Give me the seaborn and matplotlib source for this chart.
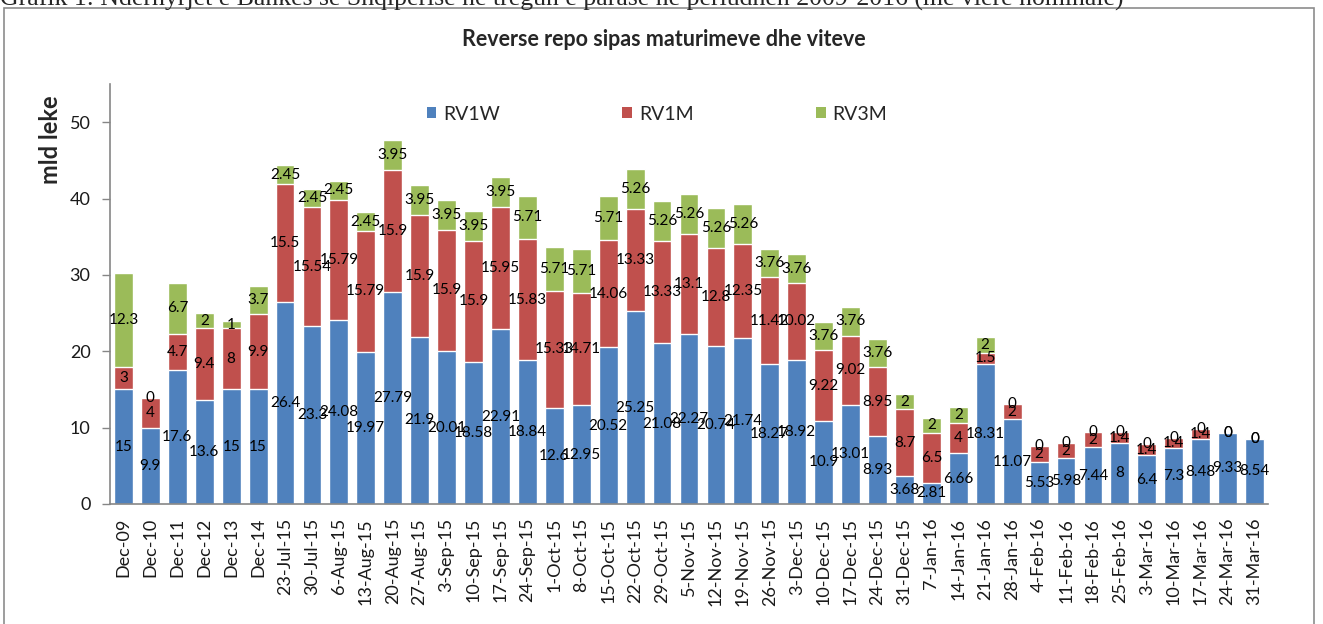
import numpy as np
import seaborn as sns
import matplotlib.pyplot as plt
from matplotlib.patches import Patch, Rectangle
from matplotlib.ticker import FixedLocator

# data
dates = ["Dec-09", "Dec-10", "Dec-11", "Dec-12", "Dec-13", "Dec-14",
         "23-Jul-15", "30-Jul-15", "6-Aug-15", "13-Aug-15", "20-Aug-15", "27-Aug-15",
         "3-Sep-15", "10-Sep-15", "17-Sep-15", "24-Sep-15", "1-Oct-15", "8-Oct-15",
         "15-Oct-15", "22-Oct-15", "29-Oct-15", "5-Nov-15", "12-Nov-15", "19-Nov-15",
         "26-Nov-15", "3-Dec-15", "10-Dec-15", "17-Dec-15", "24-Dec-15", "31-Dec-15",
         "7-Jan-16", "14-Jan-16", "21-Jan-16", "28-Jan-16", "4-Feb-16", "11-Feb-16",
         "18-Feb-16", "25-Feb-16", "3-Mar-16", "10-Mar-16", "17-Mar-16", "24-Mar-16",
         "31-Mar-16"]

rv1w = [15, 9.9, 17.6, 13.6, 15, 15,
        26.4, 23.3, 24.08, 19.97, 27.79, 21.9,
        20.01, 18.58, 22.91, 18.84, 12.6, 12.95,
        20.52, 25.25, 21.08, 22.27, 20.74, 21.74,
        18.27, 18.92, 10.9, 13.01, 8.93, 3.68,
        2.81, 6.66, 18.31, 11.07, 5.53, 5.98,
        7.44, 8, 6.4, 7.3, 8.48, 9.33,
        8.54]

rv1m = [3, 4, 4.7, 9.4, 8, 9.9,
        15.5, 15.54, 15.79, 15.79, 15.9, 15.9,
        15.9, 15.9, 15.95, 15.83, 15.33, 14.71,
        14.06, 13.33, 13.33, 13.1, 12.8, 12.35,
        11.42, 10.02, 9.22, 9.02, 8.95, 8.7,
        6.5, 4, 1.5, 2, 2, 2,
        2, 1.4, 1.4, 1.4, 1.4, 0,
        0]

rv3m = [12.3, 0, 6.7, 2, 1, 3.7,
        2.45, 2.45, 2.45, 2.45, 3.95, 3.95,
        3.95, 3.95, 3.95, 5.71, 5.71, 5.71,
        5.71, 5.26, 5.26, 5.26, 5.26, 5.26,
        3.76, 3.76, 3.76, 3.76, 3.76, 2,
        2, 2, 2, 0, 0, 0,
        0, 0, 0, 0, 0, 0,
        0]

series = ["RV1W", "RV1M", "RV3M"]
colors = ["#4F81BD", "#C0504D", "#9BBB59"]

sns.set_style("white")
plt.rcParams['font.family'] = ['Lato', 'DejaVu Sans']

fig = plt.figure(figsize=(13.23, 6.24), dpi=100)
ax = fig.add_axes([110 / 1323, 1 - 504 / 624, 1158 / 1323, 420 / 624])

w = np.array(rv1w)
m = np.array(rv1m)
q = np.array(rv3m)

# stacked bars by overdrawing cumulative totals
sns.barplot(x=dates, y=w + m + q, color=colors[2], width=0.7, saturation=1, ax=ax)
sns.barplot(x=dates, y=w + m, color=colors[1], width=0.7, saturation=1, ax=ax)
sns.barplot(x=dates, y=w, color=colors[0], width=0.7, saturation=1, ax=ax)

# data labels at segment centres
for i in range(len(dates)):
    base = 0
    for vals in (w, m, q):
        v = vals[i]
        ax.text(i, base + v / 2, f"{v:g}", ha="center", va="center",
                fontsize=11, color="black", zorder=10)
        base += v

ax.set_xlim(-0.5, len(dates) - 0.5)
ax.set_ylim(0, 55)
ax.set_yticks(range(0, 51, 10))
ax.set_xlabel("")
ax.set_ylabel("")

ax.xaxis.set_minor_locator(FixedLocator(np.arange(-0.5, len(dates), 1)))
ax.tick_params(axis="x", which="major", length=0, labelsize=13, rotation=90, pad=10)
ax.tick_params(axis="x", which="minor", length=5, color="#868686", width=1)
ax.tick_params(axis="y", length=6, color="#868686", width=1, labelsize=13, left=True, pad=8)
for lab in ax.get_xticklabels() + ax.get_yticklabels():
    lab.set_color("#1a1a1a")

sns.despine(ax=ax, top=True, right=True)
for s in ("left", "bottom"):
    ax.spines[s].set_color("#868686")
    ax.spines[s].set_linewidth(1.2)

handles = [Patch(facecolor=c, edgecolor="none") for c in colors]
fig.legend(handles, series, loc="center", ncol=3,
           bbox_to_anchor=(657 / 1323, 1 - 114 / 624), bbox_transform=fig.transFigure,
           frameon=False, fontsize=14, handlelength=0.5, handleheight=0.5,
           handletextpad=0.35, columnspacing=6.3)

fig.text(664 / 1323, 1 - 40 / 624, "Reverse repo sipas maturimeve dhe viteve",
         ha="center", va="center", fontsize=15.5, fontweight="bold")
fig.text(50 / 1323, 1 - 140 / 624, "mld leke", rotation=90, ha="center", va="center",
         fontsize=17, fontweight="bold")

# caption above the chart box (cut off at the top, as in the source)
fig.text(0, 1 - 6 / 624,
         "Grafik 1: Ndërhyrjet e Bankës së Shqipërisë në tregun e parasë në periudhën 2009-2016 (me vlerë nominale)",
         ha="left", va="baseline", fontsize=18.5, family=["Liberation Serif"])

fig.patches.append(Rectangle((4 / 1323, -0.1), 1310 / 1323, 1.1 - 8 / 624,
                             transform=fig.transFigure, fill=False,
                             edgecolor="#8c8c8c", linewidth=1.2))

fig.savefig("out.png", dpi=100)
